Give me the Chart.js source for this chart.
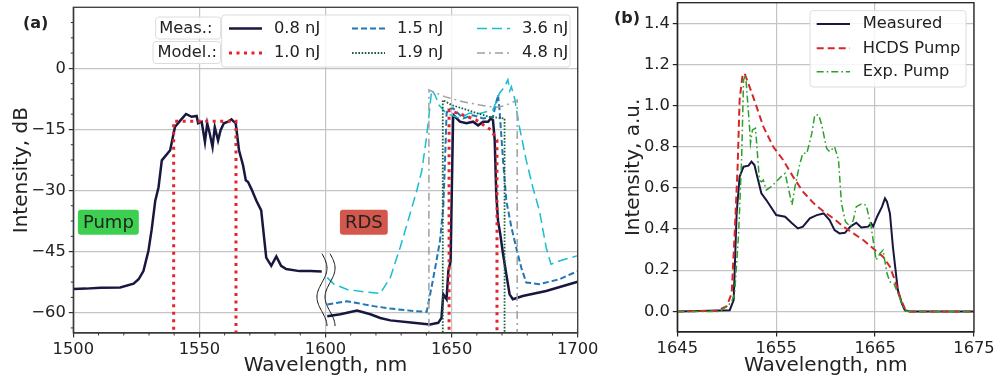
<!DOCTYPE html>
<html>
<head>
<meta charset="utf-8">
<script src="https://cdn.jsdelivr.net/npm/chart.js@4.4.1/dist/chart.umd.min.js"></script>
<style>
  html, body { margin: 0; padding: 0; background: #fff; }
  #wrap { position: relative; width: 997px; height: 381px; }
  canvas { position: absolute; top: 0; }
  #chartA { left: 0; }
  #chartB { left: 600px; }
</style>
</head>
<body>
<div id="wrap">
  <canvas id="chartA" width="600" height="381"></canvas>
  <canvas id="chartB" width="397" height="381"></canvas>
</div>
<script>
// ---------- panel (a): spectra, dB ----------
// measured 0.8 nJ (pump part, then RDS part after the axis break)
const wl08 = [1500, 1505, 1510.8, 1518.6, 1523.9, 1525.9, 1527.8, 1529.8, 1531.1, 1532.5, 1533.8, 1535.1, 1538.4, 1540.3, 1542.3, 1544.7, 1546.9, 1548.9, 1549.5, 1550.9, 1552.2, 1553.1, 1554.1, 1555.2, 1556.1, 1557.4, 1558.4, 1559.7, 1561.4, 1562.7, 1564.4, 1565.7, 1567.3, 1568.4, 1569.3, 1570.6, 1572.6, 1574.5, 1576.5, 1578.5, 1580.5, 1582.4, 1584.4, 1589.7, 1594, 1598.5,
  1599.5,
  1600.7, 1605.9, 1612.5, 1617.8, 1621.7, 1625.7, 1634.8, 1641.4, 1644.7, 1646, 1646.7, 1648, 1648.7, 1649.6, 1650.6, 1650.9, 1653.3, 1655.9, 1658.5, 1660.5, 1662.5, 1664.5, 1665.5, 1666.4, 1667.1, 1667.7, 1668.4, 1669.3, 1670.4, 1671.7, 1673, 1674.3, 1678.2, 1687.5, 1700];
const db08 = [-54.2, -54.1, -53.9, -53.8, -52.9, -51.8, -49.8, -44.8, -39.5, -32.5, -29.2, -22.6, -20.1, -14.4, -12.9, -11.2, -11.9, -11.7, -13.5, -13.1, -18.1, -13.5, -16, -19.3, -14.4, -17.7, -15.2, -13.5, -13.1, -12.5, -13.5, -20.1, -23.8, -27.5, -27.9, -29.6, -32.5, -34.9, -46.5, -48.5, -46.2, -48.5, -49.3, -49.8, -49.8, -49.9,
  null,
  -60.9, -60.4, -59.5, -60.4, -61.3, -61.9, -62.5, -62.9, -62.5, -61.3, -55.5, -56.7, -49.8, -47.3, -11.9, -11.6, -13.1, -13.5, -13.1, -14, -13.1, -13.1, -12.3, -12.7, -17.7, -30.8, -37.4, -40.7, -45.6, -50.6, -55.5, -56.7, -55.9, -54.7, -52.4];

// measured 1.5 nJ (RDS only)
const wl15 = [1600.7, 1608.6, 1619.1, 1625.7, 1634.8, 1640.1, 1642, 1644, 1645.4, 1646.7, 1647.4, 1648, 1648.7, 1650.6, 1654.6, 1658.5, 1662.5, 1666.4, 1668.4, 1669, 1670.4, 1671.7, 1673.7, 1675.6, 1677.6, 1679.6, 1684.8, 1692.7, 1700];
const db15 = [-58, -57.2, -58.4, -59, -59.6, -59.8, -53.9, -47.3, -42.3, -34.1, -22.6, -11.1, -10, -9.8, -12.3, -11.5, -12.3, -11.9, -6.5, -10.2, -22.6, -32.5, -39, -44, -48.9, -52.6, -53, -51.8, -49.8];

// measured 3.6 nJ (RDS only)
const wl36 = [1600.7, 1603.3, 1608.6, 1615.1, 1621.7, 1625.7, 1629.6, 1633.5, 1636.2, 1638.2, 1640.1, 1641.4, 1642.1, 1643.4, 1645, 1648, 1653.3, 1657, 1661.2, 1666.4, 1669, 1671, 1672.3, 1673.1, 1673.7, 1675, 1676.9, 1679.6, 1682.2, 1684.8, 1687.5, 1689.4, 1692.7, 1700];
const db36 = [-51.4, -53, -54.3, -54.9, -55.3, -51.4, -44, -35.8, -30, -25.1, -16.8, -9.4, -5.3, -6.5, -9, -11.1, -12.3, -11, -11.1, -10.2, -6.1, -4.5, -2.8, -5.5, -4.5, -7.4, -14.4, -22.6, -29.2, -34.9, -44, -48.1, -47.3, -46];

// model 1.0 nJ (pump and RDS)
const wlM10 = [1539.8, 1539.8, 1564.5, 1564.5, 1600, 1649, 1649, 1656.5, 1659.8, 1665.8, 1668, 1668];
const dbM10 = [-90, -13, -13, -90, null, -90, -10.3, -11.9, -12.7, -15.2, -17.7, -90];

// model 1.9 nJ
const wlM19 = [1646.5, 1646.5, 1650, 1655, 1660, 1665, 1671, 1671];
const dbM19 = [-90, -7.8, -9, -10, -11, -11.9, -12.3, -90];

// model 4.8 nJ
const wlM48 = [1641, 1641, 1647.5, 1654.5, 1661.2, 1667.5, 1671, 1676, 1676];
const dbM48 = [-90, -5.3, -7, -8.2, -9, -9.6, -9.2, -7.8, -90];

const xTicksA = [1500, 1550, 1600, 1650, 1700];
const yTicksA = [-60, -45, -30, -15, 0];
const breakX = [1598.6, 1601.8];
const breakY = [-45.5, -63.3];

// ---------- panel (b): linear intensity ----------
const wlMeas = [1645, 1650.3, 1650.7, 1651, 1651.3, 1651.7, 1652.2, 1652.5, 1652.8, 1653, 1653.5, 1654, 1655, 1655.9, 1656.6, 1657.2, 1657.7, 1658.4, 1659.1, 1659.8, 1660.4, 1660.9, 1661.4, 1661.95, 1662.5, 1663.1, 1663.6, 1664.3, 1664.6, 1664.8, 1665.2, 1665.7, 1666, 1666.2, 1666.5, 1666.8, 1667.3, 1667.7, 1668, 1668.5, 1675];
const valMeas = [0, 0.006, 0.055, 0.476, 0.655, 0.703, 0.708, 0.728, 0.711, 0.671, 0.574, 0.541, 0.468, 0.46, 0.428, 0.403, 0.412, 0.452, 0.468, 0.476, 0.444, 0.395, 0.379, 0.382, 0.412, 0.431, 0.408, 0.412, 0.428, 0.412, 0.46, 0.509, 0.549, 0.533, 0.476, 0.314, 0.104, 0.039, 0.006, 0, 0];

const wlHcds = [1645, 1649, 1650, 1650.5, 1650.8, 1651.1, 1651.3, 1651.6, 1651.8, 1652.3, 1652.9, 1653.7, 1654.7, 1655.7, 1656.7, 1657.7, 1658.8, 1659.8, 1660.8, 1661.8, 1662.8, 1663.8, 1664.8, 1665.8, 1666.5, 1667, 1667.5, 1668, 1668.5, 1675];
const valHcds = [0, 0.003, 0.026, 0.088, 0.379, 0.703, 1.027, 1.149, 1.157, 1.092, 1.011, 0.898, 0.8, 0.736, 0.655, 0.582, 0.525, 0.485, 0.452, 0.412, 0.379, 0.347, 0.306, 0.266, 0.217, 0.152, 0.071, 0.015, 0, 0];

const wlExp = [1645, 1649.3, 1650, 1650.5, 1650.8, 1651.2, 1651.5, 1651.7, 1651.9, 1652, 1652.3, 1652.4, 1652.6, 1652.9, 1653, 1653.3, 1653.5, 1653.7, 1654, 1654.5, 1655, 1655.5, 1655.9, 1656.2, 1656.6, 1656.9, 1657.4, 1657.7, 1658.1, 1658.6, 1658.9, 1659.3, 1659.6, 1660.1, 1660.4, 1660.9, 1661.3, 1661.6, 1662, 1662.5, 1662.8, 1663.1, 1663.6, 1664.1, 1664.6, 1664.9, 1665.1, 1665.5, 1665.8, 1666.2, 1666.5, 1666.9, 1667.3, 1667.7, 1668, 1668.5, 1675];
const valExp = [0, 0, 0.023, 0.047, 0.088, 0.379, 0.736, 1.125, 1.149, 1.092, 0.898, 0.817, 0.882, 0.89, 0.833, 0.638, 0.63, 0.638, 0.59, 0.606, 0.63, 0.655, 0.671, 0.606, 0.517, 0.606, 0.72, 0.768, 0.768, 0.865, 0.954, 0.954, 0.906, 0.792, 0.776, 0.8, 0.736, 0.525, 0.436, 0.412, 0.444, 0.509, 0.522, 0.517, 0.412, 0.314, 0.25, 0.282, 0.298, 0.185, 0.144, 0.136, 0.088, 0.039, 0.003, 0, 0];

const xTicksB = [1645, 1655, 1665, 1675];
const yTicksB = [0, 0.2, 0.4, 0.6, 0.8, 1.0, 1.2, 1.4];

// ---------- styles ----------
Chart.defaults.font.family = '"DejaVu Sans", sans-serif';
Chart.defaults.color = '#222';
const FS = 16.3;
const gridColor = '#c4c4c4';

const styles = {
  m08: { color: '#17173f', width: 2.5, dash: [] },
  m15: { color: '#1f77b4', width: 2, dash: [6, 3] },
  m36: { color: '#17becf', width: 1.5, dash: [10, 5] },
  d10: { color: '#e3242b', width: 3, dash: [3, 4.5] },
  d19: { color: '#1c5e3c', width: 1.8, dash: [1.6, 1.6] },
  d48: { color: '#a0a0a0', width: 1.5, dash: [8, 4, 2, 4] },
  meas: { color: '#17173f', width: 2, dash: [] },
  hcds: { color: '#d62728', width: 2, dash: [7, 4] },
  exp: { color: '#2ca02c', width: 1.5, dash: [7, 3, 1.6, 3] }
};

function pts(xs, ys) { return xs.map((x, i) => ({ x: x, y: ys[i] })); }
function ds(label, xs, ys, st) {
  return { label: label, data: pts(xs, ys), borderColor: st.color, borderWidth: st.width,
    borderDash: st.dash, pointRadius: 0, tension: 0, spanGaps: false, fill: false };
}
function roundBox(ctx, x, y, w, h, r, fill, stroke) {
  ctx.beginPath();
  ctx.roundRect(x, y, w, h, r);
  ctx.fillStyle = fill; ctx.fill();
  if (stroke) { ctx.strokeStyle = stroke; ctx.lineWidth = 1; ctx.stroke(); }
}
function sample(ctx, x1, x2, y, st) {
  ctx.save();
  ctx.beginPath();
  ctx.setLineDash(st.dash);
  ctx.lineWidth = st.width;
  ctx.strokeStyle = st.color;
  ctx.moveTo(x1, y); ctx.lineTo(x2, y);
  ctx.stroke();
  ctx.restore();
}
const frame = {
  id: 'frame',
  afterDraw(chart, args, opts) {
    const { ctx, chartArea: a } = chart;
    ctx.save();
    ctx.strokeStyle = opts.color; ctx.lineWidth = 1.3;
    ctx.strokeRect(a.left, a.top, a.right - a.left, a.bottom - a.top);
    ctx.restore();
  }
};
function fixPad(s) { s.paddingTop = 0; s.paddingBottom = 0; s.paddingLeft = 0; s.paddingRight = 0; }

// ---------- panel (a) ----------
const extrasA = {
  id: 'extrasA',
  afterDraw(chart) {
    const { ctx, scales: { x, y }, chartArea: a } = chart;
    ctx.save();
    // minor ticks
    ctx.strokeStyle = '#333'; ctx.lineWidth = 1;
    ctx.beginPath();
    for (let v = 1510; v < 1700; v += 10) {
      if (xTicksA.includes(v)) continue;
      const px = x.getPixelForValue(v);
      ctx.moveTo(px, a.bottom); ctx.lineTo(px, a.bottom + 2.5);
    }
    for (let v = -63.75; v < 15; v += 3.75) {
      if (yTicksA.includes(v)) continue;
      const py = y.getPixelForValue(v);
      ctx.moveTo(a.left, py); ctx.lineTo(a.left - 2.5, py);
    }
    ctx.stroke();

    // axis break marks
    const yT = y.getPixelForValue(breakY[0]), yB = y.getPixelForValue(breakY[1]);
    ctx.strokeStyle = '#111'; ctx.lineWidth = 1;
    breakX.forEach(bx => {
      const cx = x.getPixelForValue(bx);
      ctx.beginPath();
      for (let i = 0; i <= 60; i++) {
        const t = i / 60;
        const px = cx + 5 * Math.sin(t * Math.PI * 2.5);
        const py = yT + (yB - yT) * t;
        if (i === 0) ctx.moveTo(px, py); else ctx.lineTo(px, py);
      }
      ctx.stroke();
    });

    // Pump / RDS tags
    ctx.font = '18px "DejaVu Sans"';
    ctx.textAlign = 'center'; ctx.textBaseline = 'middle';
    [['Pump', 1513.9, -37.8, '#3ccf50'], ['RDS', 1615.2, -37.8, '#d4574e']].forEach(t => {
      const cx = x.getPixelForValue(t[1]), cy = y.getPixelForValue(t[2]);
      const w = ctx.measureText(t[0]).width + 10;
      roundBox(ctx, cx - w / 2, cy - 12.5, w, 25, 3, t[3]);
      ctx.fillStyle = '#222';
      ctx.fillText(t[0], cx, cy + 1);
    });

    // panel letter
    ctx.font = 'bold 16px "DejaVu Sans"';
    ctx.textAlign = 'left';
    ctx.fillStyle = '#222';
    ctx.fillText('(a)', 23, 23.5);

    // legend
    const bg = 'rgba(255,255,255,0.85)', bd = '#dcdcdc';
    roundBox(ctx, 155.7, 17, 65, 22, 3, bg, bd);
    roundBox(ctx, 153, 41.5, 67.5, 22, 3, bg, bd);
    roundBox(ctx, 221.7, 15, 348.3, 52, 3, bg, bd);
    ctx.font = FS + 'px "DejaVu Sans"';
    ctx.fillStyle = '#222';
    ctx.fillText('Meas.:', 159.3, 28.5);
    ctx.fillText('Model.:', 157.5, 53);
    const cols = [229, 352, 477];
    const items = [
      ['0.8 nJ', styles.m08, 0, 0], ['1.5 nJ', styles.m15, 1, 0], ['3.6 nJ', styles.m36, 2, 0],
      ['1.0 nJ', styles.d10, 0, 1], ['1.9 nJ', styles.d19, 1, 1], ['4.8 nJ', styles.d48, 2, 1]
    ];
    items.forEach(it => {
      const x0 = cols[it[2]], yy = it[3] === 0 ? 28.5 : 53;
      sample(ctx, x0, x0 + 33, yy, it[1]);
      ctx.fillStyle = '#222';
      ctx.fillText(it[0], x0 + 45, yy);
    });
    ctx.restore();
  }
};

new Chart(document.getElementById('chartA'), {
  type: 'line',
  data: {
    datasets: [
      ds('1.0 nJ', wlM10, dbM10, styles.d10),
      ds('1.9 nJ', wlM19, dbM19, styles.d19),
      ds('4.8 nJ', wlM48, dbM48, styles.d48),
      ds('3.6 nJ', wl36, db36, styles.m36),
      ds('1.5 nJ', wl15, db15, styles.m15),
      ds('0.8 nJ', wl08, db08, styles.m08)
    ]
  },
  options: {
    responsive: false, animation: false, devicePixelRatio: 1,
    layout: { padding: { top: 7.3, right: 22.3, left: 0, bottom: 0 } },
    plugins: { legend: { display: false }, tooltip: { enabled: false }, frame: { color: '#3a3a3a' } },
    scales: {
      x: {
        type: 'linear', min: 1500, max: 1700,
        afterBuildTicks: s => { s.ticks = xTicksA.map(v => ({ value: v })); },
        afterFit: s => { s.height = 48; fixPad(s); },
        grid: { color: gridColor, lineWidth: 1.2, tickLength: 4.5, tickColor: '#333', tickWidth: 1.2 },
        border: { color: '#3a3a3a', width: 1.3 },
        ticks: { font: { size: FS }, color: '#222', padding: 2, maxRotation: 0, autoSkip: false, callback: v => String(v) },
        title: { display: true, text: 'Wavelength, nm', font: { size: 20 }, color: '#222', padding: { top: 0, bottom: 3 } }
      },
      y: {
        type: 'linear', min: -65, max: 15,
        afterBuildTicks: s => { s.ticks = yTicksA.map(v => ({ value: v })); },
        afterFit: s => { s.width = 73.3; fixPad(s); },
        grid: { color: gridColor, lineWidth: 1.2, tickLength: 4.5, tickColor: '#333', tickWidth: 1.2 },
        border: { color: '#3a3a3a', width: 1.3 },
        ticks: { font: { size: FS }, color: '#222', padding: 3, callback: v => String(v).replace('-', '\u2212') },
        title: { display: true, text: 'Intensity, dB', font: { size: 20 }, color: '#222', padding: { top: 10, bottom: 0 } }
      }
    }
  },
  plugins: [frame, extrasA]
});

// ---------- panel (b) ----------
const extrasB = {
  id: 'extrasB',
  afterDraw(chart) {
    const ctx = chart.ctx;
    ctx.save();
    ctx.font = 'bold 16px "DejaVu Sans"';
    ctx.textBaseline = 'middle'; ctx.textAlign = 'left'; ctx.fillStyle = '#222';
    ctx.fillText('(b)', 14, 19);
    roundBox(ctx, 210, 10.7, 156, 76.3, 3, 'rgba(255,255,255,0.85)', '#dcdcdc');
    ctx.font = FS + 'px "DejaVu Sans"';
    [['Measured', styles.meas, 24], ['HCDS Pump', styles.hcds, 48.3], ['Exp. Pump', styles.exp, 71.7]].forEach(it => {
      sample(ctx, 216.7, 250, it[2], it[1]);
      ctx.fillStyle = '#222';
      ctx.fillText(it[0], 262.7, it[2]);
    });
    ctx.restore();
  }
};

new Chart(document.getElementById('chartB'), {
  type: 'line',
  data: {
    datasets: [
      ds('Exp. Pump', wlExp, valExp, styles.exp),
      ds('HCDS Pump', wlHcds, valHcds, styles.hcds),
      ds('Measured', wlMeas, valMeas, styles.meas)
    ]
  },
  options: {
    responsive: false, animation: false, devicePixelRatio: 1,
    layout: { padding: { top: 2.7, right: 23, left: 0, bottom: 0 } },
    plugins: { legend: { display: false }, tooltip: { enabled: false }, frame: { color: '#222' } },
    scales: {
      x: {
        type: 'linear', min: 1645, max: 1675,
        afterBuildTicks: s => { s.ticks = xTicksB.map(v => ({ value: v })); },
        afterFit: s => { s.height = 49; fixPad(s); },
        grid: { color: gridColor, lineWidth: 1.2, tickLength: 4.5, tickColor: '#222', tickWidth: 1.2 },
        border: { color: '#222', width: 1.3 },
        ticks: { font: { size: FS }, color: '#222', padding: 2, maxRotation: 0, autoSkip: false, callback: v => String(v) },
        title: { display: true, text: 'Wavelength, nm', font: { size: 20 }, color: '#222', padding: { top: 0, bottom: 3 } }
      },
      y: {
        type: 'linear', min: -0.1, max: 1.5,
        afterBuildTicks: s => { s.ticks = yTicksB.map(v => ({ value: v })); },
        afterFit: s => { s.width = 77.3; fixPad(s); },
        grid: { color: gridColor, lineWidth: 1.2, tickLength: 4.5, tickColor: '#222', tickWidth: 1.2 },
        border: { color: '#222', width: 1.3 },
        ticks: { font: { size: FS }, color: '#222', padding: 3, callback: v => v.toFixed(1) },
        title: { display: true, text: 'Intensity, a.u.', font: { size: 20 }, color: '#222', padding: { top: 22, bottom: 0 } }
      }
    }
  },
  plugins: [frame, extrasB]
});
</script>
</body>
</html>
